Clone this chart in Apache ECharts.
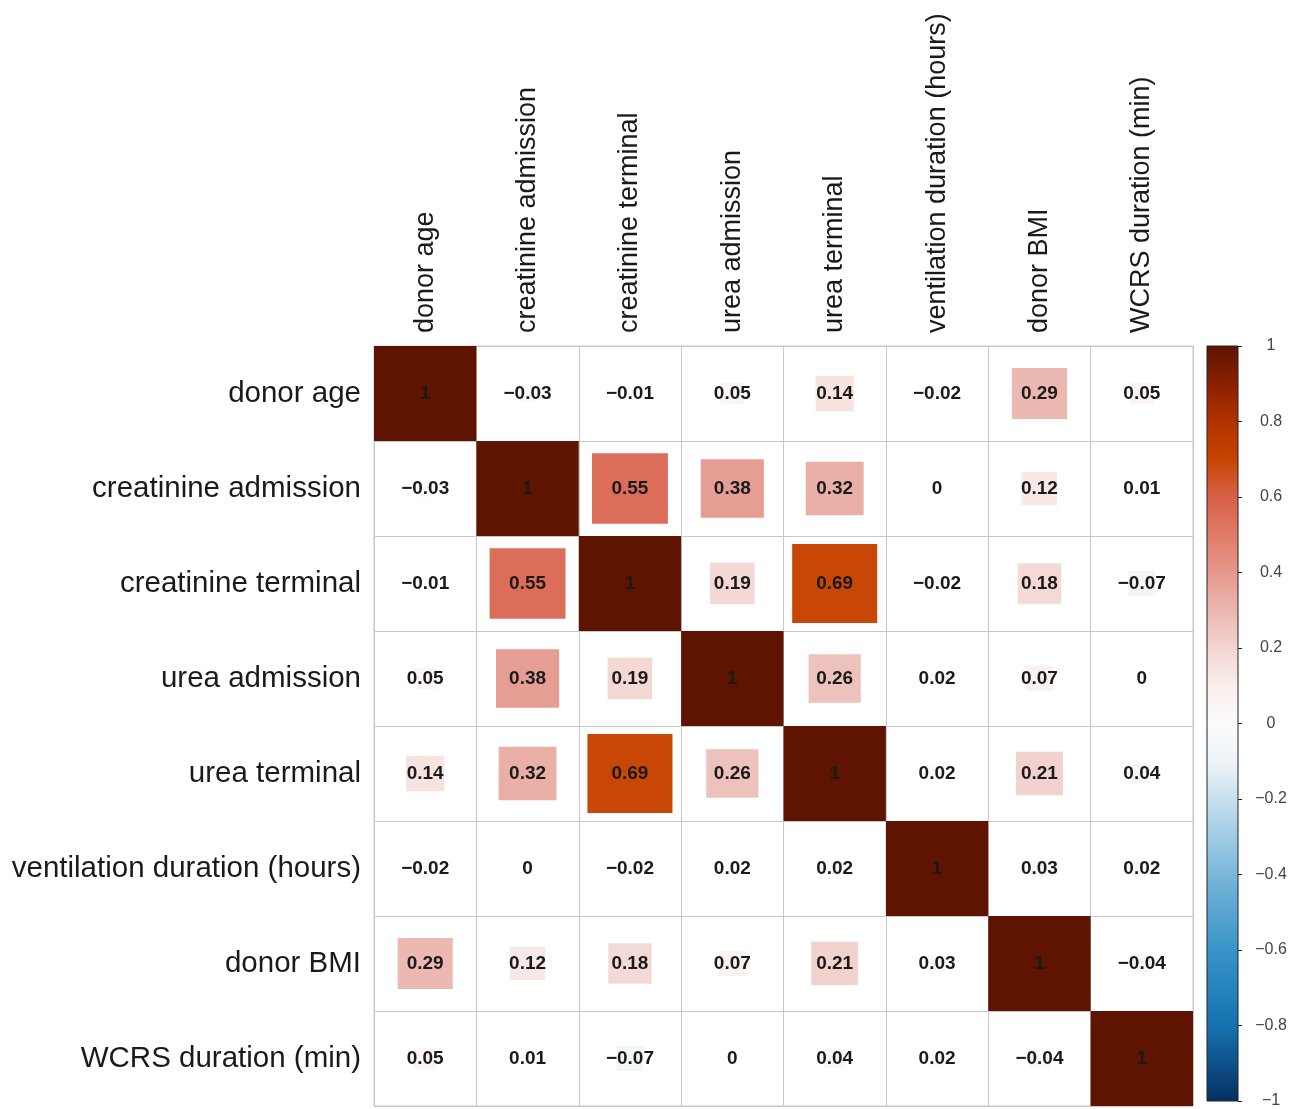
<!DOCTYPE html>
<html>
<head>
<meta charset="utf-8">
<title>Correlation matrix of donor variables</title>
<script src="https://cdn.jsdelivr.net/npm/echarts@6/dist/echarts.min.js"></script>
<style>
  html, body { margin: 0; padding: 0; background: #ffffff; }
  #chart { width: 1304px; height: 1109px; }
</style>
</head>
<body>
<div id="chart"></div>
<script>
// Variables, in the order they appear along both axes
const variables = [
  'donor age',
  'creatinine admission',
  'creatinine terminal',
  'urea admission',
  'urea terminal',
  'ventilation duration (hours)',
  'donor BMI',
  'WCRS duration (min)'
];

// Pairwise correlation coefficients, one row per variable
const correlations = [
  [1, -0.03, -0.01, 0.05, 0.14, -0.02, 0.29, 0.05],
  [-0.03, 1, 0.55, 0.38, 0.32, 0, 0.12, 0.01],
  [-0.01, 0.55, 1, 0.19, 0.69, -0.02, 0.18, -0.07],
  [0.05, 0.38, 0.19, 1, 0.26, 0.02, 0.07, 0],
  [0.14, 0.32, 0.69, 0.26, 1, 0.02, 0.21, 0.04],
  [-0.02, 0, -0.02, 0.02, 0.02, 1, 0.03, 0.02],
  [0.29, 0.12, 0.18, 0.07, 0.21, 0.03, 1, -0.04],
  [0.05, 0.01, -0.07, 0, 0.04, 0.02, -0.04, 1]
];

// Colour scale ticks on the legend bar
const scaleTicks = [-1, -0.8, -0.6, -0.4, -0.2, 0, 0.2, 0.4, 0.6, 0.8, 1];

// Diverging palette: value -> colour stop
const paletteStops = [
  [-1.0, '#053061'],
  [-0.8, '#1672b0'],
  [-0.6, '#3894c8'],
  [-0.4, '#7ab6d9'],
  [-0.2, '#c8dfee'],
  [-0.1, '#eef4f8'],
  [0.0, '#fbfbfb'],
  [0.1, '#f9eeec'],
  [0.2, '#f3d5d1'],
  [0.3, '#ebb6ae'],
  [0.4, '#e5988d'],
  [0.5, '#e07b68'],
  [0.6, '#d75f48'],
  [0.7, '#c64400'],
  [0.8, '#b03200'],
  [0.9, '#8a2000'],
  [1.0, '#5e1400']
];

function hexToRgb(h) {
  return [parseInt(h.slice(1, 3), 16), parseInt(h.slice(3, 5), 16), parseInt(h.slice(5, 7), 16)];
}

function colorFor(v) {
  if (v <= paletteStops[0][0]) return paletteStops[0][1];
  for (let i = 1; i < paletteStops.length; i++) {
    const [v1, c1] = paletteStops[i];
    if (v <= v1) {
      const [v0, c0] = paletteStops[i - 1];
      const t = (v - v0) / (v1 - v0);
      const a = hexToRgb(c0), b = hexToRgb(c1);
      const m = a.map((x, k) => Math.round(x + (b[k] - x) * t));
      return 'rgb(' + m.join(',') + ')';
    }
  }
  return paletteStops[paletteStops.length - 1][1];
}

function fmt(v) {
  const r = Math.round(v * 100) / 100;
  if (r === 0) return '0';
  return (r < 0 ? '\u2212' : '') + String(Math.abs(r));
}

// Flatten the matrix into [column, row, value] cells
const cells = [];
correlations.forEach((row, r) => {
  row.forEach((v, c) => cells.push([c, r, v]));
});

const FONT = '"Liberation Sans", Arial, Helvetica, sans-serif';

const chart = echarts.init(document.getElementById('chart'), null, { renderer: 'canvas' });

chart.setOption({
  backgroundColor: '#ffffff',
  animation: false,
  grid: [
    { left: 374, top: 346, width: 819, height: 760, show: true, borderColor: '#c8c8c8', borderWidth: 1, containLabel: false },
    { left: 1207, top: 346, width: 31, height: 760, containLabel: false }
  ],
  xAxis: [
    {
      gridIndex: 0,
      type: 'category',
      data: variables,
      position: 'top',
      axisLine: { show: false },
      axisTick: { show: false },
      splitLine: { show: true, interval: 0, lineStyle: { color: '#c8c8c8', width: 1 } },
      axisLabel: { rotate: -90, interval: 0, margin: 13, fontSize: 27, fontFamily: FONT, color: '#1a1a1a' }
    },
    {
      gridIndex: 1,
      type: 'category',
      data: ['scale'],
      show: false
    }
  ],
  yAxis: [
    {
      gridIndex: 0,
      type: 'category',
      data: variables,
      inverse: true,
      axisLine: { show: false },
      axisTick: { show: false },
      splitLine: { show: true, interval: 0, lineStyle: { color: '#c8c8c8', width: 1 } },
      axisLabel: { interval: 0, margin: 13, fontSize: 29.5, fontFamily: FONT, color: '#1a1a1a' }
    },
    {
      gridIndex: 1,
      type: 'value',
      min: -1,
      max: 1,
      interval: 0.2,
      position: 'right',
      axisLine: { show: false },
      axisTick: { show: true, inside: false, length: 4, lineStyle: { color: '#222', width: 1 } },
      splitLine: { show: false },
      axisLabel: {
        margin: 33,
        align: 'center',
        fontSize: 16,
        fontFamily: FONT,
        color: '#444',
        formatter: v => fmt(Number(v.toFixed(1)))
      }
    }
  ],
  series: [
    {
      type: 'custom',
      name: 'correlation',
      xAxisIndex: 0,
      yAxisIndex: 0,
      data: cells,
      renderItem: function (params, api) {
        const c = api.value(0), r = api.value(1), v = api.value(2);
        const center = api.coord([c, r]);
        const size = api.size([1, 1]);
        const k = Math.sqrt(Math.abs(v));
        const w = size[0] * k, h = size[1] * k;
        return {
          type: 'group',
          children: [
            {
              type: 'rect',
              shape: { x: center[0] - w / 2, y: center[1] - h / 2, width: w, height: h },
              style: { fill: colorFor(v) }
            },
            {
              type: 'text',
              x: center[0],
              y: center[1],
              style: {
                text: fmt(v),
                fill: '#1a1a1a',
                font: 'bold 19px ' + FONT,
                textAlign: 'center',
                textVerticalAlign: 'middle'
              }
            }
          ]
        };
      }
    },
    {
      type: 'custom',
      name: 'colour scale',
      xAxisIndex: 1,
      yAxisIndex: 1,
      data: [[0, 1, -1]],
      renderItem: function (params, api) {
        const top = api.coord([0, api.value(1)]);
        const bottom = api.coord([0, api.value(2)]);
        const bw = api.size([1, 0])[0];
        const x0 = top[0] - bw / 2;
        const stops = paletteStops.map(([v, c]) => ({ offset: (1 - v) / 2, color: c }))
          .sort((a, b) => a.offset - b.offset);
        return {
          type: 'rect',
          shape: { x: x0, y: top[1], width: bw, height: bottom[1] - top[1] },
          style: {
            fill: new echarts.graphic.LinearGradient(0, 0, 0, 1, stops),
            stroke: '#222',
            lineWidth: 1
          }
        };
      }
    }
  ]
});
</script>
</body>
</html>
